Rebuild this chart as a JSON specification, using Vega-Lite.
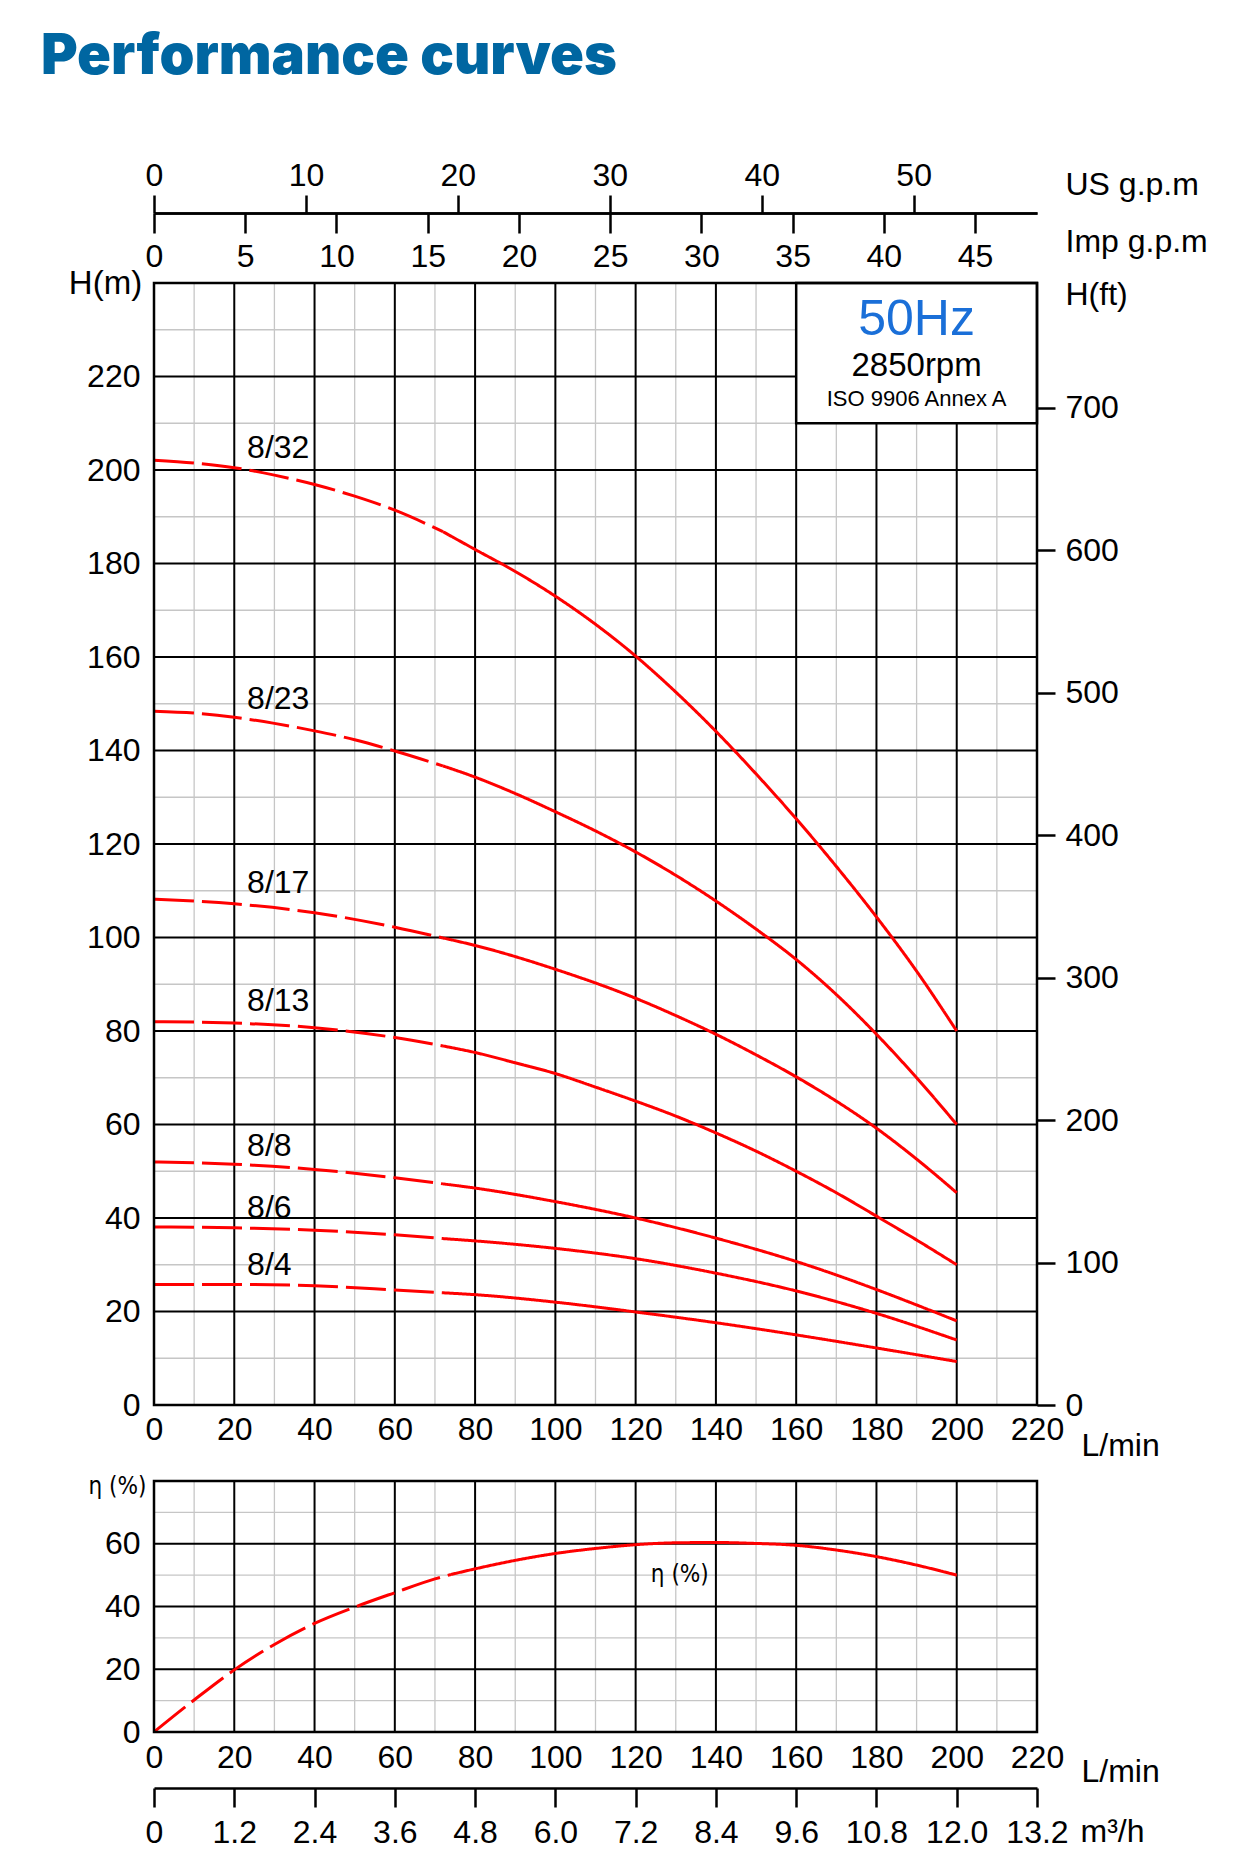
{
  "$schema": "https://vega.github.io/schema/vega-lite/v6.json",
  "background": "white",
  "padding": {"left": 41, "top": 29, "right": 10, "bottom": 10},
  "width": 883,
  "height": 1575,
  "title": {
    "text": "Performance curves",
    "anchor": "start",
    "frame": "group",
    "font": "Inter",
    "fontWeight": 900,
    "fontSize": 56,
    "color": "#0066a1",
    "offset": 73,
    "dx": -113
  },
  "config": {
    "font": "Liberation Sans",
    "view": {"stroke": null},
    "axis": {
      "labelFont": "Liberation Sans",
      "labelFontSize": 32,
      "labelColor": "black",
      "labelFlush": false,
      "labelOverlap": false,
      "labelBound": false,
      "titleFont": "Liberation Sans",
      "titleFontSize": 32,
      "titleFontWeight": "normal",
      "titleColor": "black",
      "domainColor": "black",
      "tickColor": "black",
      "grid": false
    }
  },
  "datasets": {
    "gq": [{"q": 10}, {"q": 20}, {"q": 30}, {"q": 40}, {"q": 50}, {"q": 60}, {"q": 70}, {"q": 80}, {"q": 90}, {"q": 100}, {"q": 110}, {"q": 120}, {"q": 130}, {"q": 140}, {"q": 150}, {"q": 160}, {"q": 170}, {"q": 180}, {"q": 190}, {"q": 200}, {"q": 210}],
    "gh": [{"h": 10}, {"h": 20}, {"h": 30}, {"h": 40}, {"h": 50}, {"h": 60}, {"h": 70}, {"h": 80}, {"h": 90}, {"h": 100}, {"h": 110}, {"h": 120}, {"h": 130}, {"h": 140}, {"h": 150}, {"h": 160}, {"h": 170}, {"h": 180}, {"h": 190}, {"h": 200}, {"h": 210}, {"h": 220}, {"h": 230}],
    "ge": [{"e": 10}, {"e": 20}, {"e": 30}, {"e": 40}, {"e": 50}, {"e": 60}, {"e": 70}],
    "panels": [{"panel": "main"}, {"panel": "eff"}],
    "us": [{"v": 0}, {"v": 10}, {"v": 20}, {"v": 30}, {"v": 40}, {"v": 50}],
    "imp": [{"v": 0}, {"v": 5}, {"v": 10}, {"v": 15}, {"v": 20}, {"v": 25}, {"v": 30}, {"v": 35}, {"v": 40}, {"v": 45}],
    "ft": [{"ft": 0}, {"ft": 700}],
    "m3h": [{"v": 0}, {"v": 6}, {"v": 13.2}],
    "box": [{"q": 160, "q2": 220, "h": 210, "h2": 240}],
    "boxtext": [
      {"line": "hz", "txt": "50Hz", "q": 190, "h": 228.9},
      {"line": "rpm", "txt": "2850rpm", "q": 190, "h": 220.1},
      {"line": "iso", "txt": "ISO 9906 Annex A", "q": 190, "h": 213.7}
    ],
    "labels": [
      {"model": "8/32", "q": 23.2, "h": 202.6},
      {"model": "8/23", "q": 23.2, "h": 148.9},
      {"model": "8/17", "q": 23.2, "h": 109.5},
      {"model": "8/13", "q": 23.2, "h": 84.3},
      {"model": "8/8", "q": 23.2, "h": 53.3},
      {"model": "8/6", "q": 23.2, "h": 40.0},
      {"model": "8/4", "q": 23.2, "h": 27.8}
    ],
    "curves": [
      {"model": "8/32", "seg": "dash", "q": 0, "h": 202.1},
      {"model": "8/32", "seg": "dash", "q": 10, "h": 201.5},
      {"model": "8/32", "seg": "dash", "q": 20, "h": 200.5},
      {"model": "8/32", "seg": "dash", "q": 30, "h": 198.9},
      {"model": "8/32", "seg": "dash", "q": 40, "h": 196.9},
      {"model": "8/32", "seg": "dash", "q": 50, "h": 194.4},
      {"model": "8/32", "seg": "dash", "q": 60, "h": 191.4},
      {"model": "8/32", "seg": "dash", "q": 72, "h": 186.8},
      {"model": "8/32", "seg": "solid", "q": 72, "h": 186.8},
      {"model": "8/32", "seg": "solid", "q": 80, "h": 183.0},
      {"model": "8/32", "seg": "solid", "q": 90, "h": 178.3},
      {"model": "8/32", "seg": "solid", "q": 100, "h": 173.0},
      {"model": "8/32", "seg": "solid", "q": 110, "h": 167.0},
      {"model": "8/32", "seg": "solid", "q": 120, "h": 160.2},
      {"model": "8/32", "seg": "solid", "q": 130, "h": 152.5},
      {"model": "8/32", "seg": "solid", "q": 140, "h": 144.1},
      {"model": "8/32", "seg": "solid", "q": 150, "h": 135.0},
      {"model": "8/32", "seg": "solid", "q": 160, "h": 125.4},
      {"model": "8/32", "seg": "solid", "q": 170, "h": 115.2},
      {"model": "8/32", "seg": "solid", "q": 180, "h": 104.4},
      {"model": "8/32", "seg": "solid", "q": 190, "h": 92.8},
      {"model": "8/32", "seg": "solid", "q": 200, "h": 80.0},
      {"model": "8/23", "seg": "dash", "q": 0, "h": 148.4},
      {"model": "8/23", "seg": "dash", "q": 10, "h": 148.0},
      {"model": "8/23", "seg": "dash", "q": 20, "h": 147.1},
      {"model": "8/23", "seg": "dash", "q": 30, "h": 145.8},
      {"model": "8/23", "seg": "dash", "q": 40, "h": 144.2},
      {"model": "8/23", "seg": "dash", "q": 50, "h": 142.3},
      {"model": "8/23", "seg": "dash", "q": 60, "h": 139.9},
      {"model": "8/23", "seg": "dash", "q": 72, "h": 136.7},
      {"model": "8/23", "seg": "solid", "q": 72, "h": 136.7},
      {"model": "8/23", "seg": "solid", "q": 80, "h": 134.3},
      {"model": "8/23", "seg": "solid", "q": 90, "h": 130.8},
      {"model": "8/23", "seg": "solid", "q": 100, "h": 126.9},
      {"model": "8/23", "seg": "solid", "q": 110, "h": 122.8},
      {"model": "8/23", "seg": "solid", "q": 120, "h": 118.3},
      {"model": "8/23", "seg": "solid", "q": 130, "h": 113.3},
      {"model": "8/23", "seg": "solid", "q": 140, "h": 107.8},
      {"model": "8/23", "seg": "solid", "q": 150, "h": 101.8},
      {"model": "8/23", "seg": "solid", "q": 160, "h": 95.3},
      {"model": "8/23", "seg": "solid", "q": 170, "h": 87.8},
      {"model": "8/23", "seg": "solid", "q": 180, "h": 79.3},
      {"model": "8/23", "seg": "solid", "q": 190, "h": 70.0},
      {"model": "8/23", "seg": "solid", "q": 200, "h": 60.0},
      {"model": "8/17", "seg": "dash", "q": 0, "h": 108.2},
      {"model": "8/17", "seg": "dash", "q": 20, "h": 107.2},
      {"model": "8/17", "seg": "dash", "q": 40, "h": 105.3},
      {"model": "8/17", "seg": "dash", "q": 60, "h": 102.2},
      {"model": "8/17", "seg": "dash", "q": 72, "h": 99.9},
      {"model": "8/17", "seg": "solid", "q": 72, "h": 99.9},
      {"model": "8/17", "seg": "solid", "q": 80, "h": 98.3},
      {"model": "8/17", "seg": "solid", "q": 100, "h": 93.2},
      {"model": "8/17", "seg": "solid", "q": 120, "h": 87.0},
      {"model": "8/17", "seg": "solid", "q": 130, "h": 83.3},
      {"model": "8/17", "seg": "solid", "q": 140, "h": 79.3},
      {"model": "8/17", "seg": "solid", "q": 150, "h": 74.9},
      {"model": "8/17", "seg": "solid", "q": 160, "h": 70.2},
      {"model": "8/17", "seg": "solid", "q": 170, "h": 65.0},
      {"model": "8/17", "seg": "solid", "q": 180, "h": 59.2},
      {"model": "8/17", "seg": "solid", "q": 190, "h": 52.6},
      {"model": "8/17", "seg": "solid", "q": 200, "h": 45.4},
      {"model": "8/13", "seg": "dash", "q": 0, "h": 82.0},
      {"model": "8/13", "seg": "dash", "q": 20, "h": 81.7},
      {"model": "8/13", "seg": "dash", "q": 40, "h": 80.7},
      {"model": "8/13", "seg": "dash", "q": 60, "h": 78.6},
      {"model": "8/13", "seg": "dash", "q": 72, "h": 76.8},
      {"model": "8/13", "seg": "solid", "q": 72, "h": 76.8},
      {"model": "8/13", "seg": "solid", "q": 80, "h": 75.4},
      {"model": "8/13", "seg": "solid", "q": 90, "h": 73.2},
      {"model": "8/13", "seg": "solid", "q": 100, "h": 70.9},
      {"model": "8/13", "seg": "solid", "q": 110, "h": 68.0},
      {"model": "8/13", "seg": "solid", "q": 120, "h": 65.0},
      {"model": "8/13", "seg": "solid", "q": 130, "h": 61.8},
      {"model": "8/13", "seg": "solid", "q": 140, "h": 58.2},
      {"model": "8/13", "seg": "solid", "q": 150, "h": 54.3},
      {"model": "8/13", "seg": "solid", "q": 160, "h": 50.0},
      {"model": "8/13", "seg": "solid", "q": 170, "h": 45.4},
      {"model": "8/13", "seg": "solid", "q": 180, "h": 40.4},
      {"model": "8/13", "seg": "solid", "q": 190, "h": 35.3},
      {"model": "8/13", "seg": "solid", "q": 200, "h": 30.0},
      {"model": "8/8", "seg": "dash", "q": 0, "h": 52.0},
      {"model": "8/8", "seg": "dash", "q": 20, "h": 51.5},
      {"model": "8/8", "seg": "dash", "q": 40, "h": 50.4},
      {"model": "8/8", "seg": "dash", "q": 60, "h": 48.6},
      {"model": "8/8", "seg": "dash", "q": 72, "h": 47.3},
      {"model": "8/8", "seg": "solid", "q": 72, "h": 47.3},
      {"model": "8/8", "seg": "solid", "q": 80, "h": 46.4},
      {"model": "8/8", "seg": "solid", "q": 100, "h": 43.5},
      {"model": "8/8", "seg": "solid", "q": 120, "h": 40.0},
      {"model": "8/8", "seg": "solid", "q": 140, "h": 35.7},
      {"model": "8/8", "seg": "solid", "q": 160, "h": 30.7},
      {"model": "8/8", "seg": "solid", "q": 180, "h": 24.7},
      {"model": "8/8", "seg": "solid", "q": 190, "h": 21.4},
      {"model": "8/8", "seg": "solid", "q": 200, "h": 18.0},
      {"model": "8/6", "seg": "dash", "q": 0, "h": 38.1},
      {"model": "8/6", "seg": "dash", "q": 20, "h": 37.9},
      {"model": "8/6", "seg": "dash", "q": 40, "h": 37.4},
      {"model": "8/6", "seg": "dash", "q": 60, "h": 36.4},
      {"model": "8/6", "seg": "dash", "q": 72, "h": 35.6},
      {"model": "8/6", "seg": "solid", "q": 72, "h": 35.6},
      {"model": "8/6", "seg": "solid", "q": 80, "h": 35.1},
      {"model": "8/6", "seg": "solid", "q": 100, "h": 33.5},
      {"model": "8/6", "seg": "solid", "q": 120, "h": 31.3},
      {"model": "8/6", "seg": "solid", "q": 140, "h": 28.2},
      {"model": "8/6", "seg": "solid", "q": 160, "h": 24.4},
      {"model": "8/6", "seg": "solid", "q": 180, "h": 19.6},
      {"model": "8/6", "seg": "solid", "q": 200, "h": 13.9},
      {"model": "8/4", "seg": "dash", "q": 0, "h": 25.8},
      {"model": "8/4", "seg": "dash", "q": 20, "h": 25.8},
      {"model": "8/4", "seg": "dash", "q": 40, "h": 25.5},
      {"model": "8/4", "seg": "dash", "q": 60, "h": 24.6},
      {"model": "8/4", "seg": "dash", "q": 72, "h": 24.0},
      {"model": "8/4", "seg": "solid", "q": 72, "h": 24.0},
      {"model": "8/4", "seg": "solid", "q": 80, "h": 23.6},
      {"model": "8/4", "seg": "solid", "q": 100, "h": 22.0},
      {"model": "8/4", "seg": "solid", "q": 120, "h": 19.9},
      {"model": "8/4", "seg": "solid", "q": 140, "h": 17.6},
      {"model": "8/4", "seg": "solid", "q": 160, "h": 15.0},
      {"model": "8/4", "seg": "solid", "q": 180, "h": 12.2},
      {"model": "8/4", "seg": "solid", "q": 200, "h": 9.3}
    ],
    "eff": [
      {"seg": "dash", "q": 0, "e": 0},
      {"seg": "dash", "q": 10, "e": 10.2},
      {"seg": "dash", "q": 20, "e": 19.8},
      {"seg": "dash", "q": 30, "e": 27.9},
      {"seg": "dash", "q": 40, "e": 34.6},
      {"seg": "dash", "q": 50, "e": 39.8},
      {"seg": "dash", "q": 60, "e": 44.4},
      {"seg": "dash", "q": 70, "e": 48.8},
      {"seg": "dash", "q": 74, "e": 50.2},
      {"seg": "solid", "q": 74, "e": 50.2},
      {"seg": "solid", "q": 80, "e": 52.0},
      {"seg": "solid", "q": 90, "e": 54.7},
      {"seg": "solid", "q": 100, "e": 56.9},
      {"seg": "solid", "q": 110, "e": 58.5},
      {"seg": "solid", "q": 120, "e": 59.7},
      {"seg": "solid", "q": 130, "e": 60.3},
      {"seg": "solid", "q": 140, "e": 60.4},
      {"seg": "solid", "q": 150, "e": 60.1},
      {"seg": "solid", "q": 160, "e": 59.5},
      {"seg": "solid", "q": 170, "e": 58.0},
      {"seg": "solid", "q": 180, "e": 55.9},
      {"seg": "solid", "q": 190, "e": 53.2},
      {"seg": "solid", "q": 200, "e": 50.0}
    ],
    "efflabel": [{"txt": "η (%)", "q": 131, "e": 50}]
  },
  "layer": [
    {
      "data": {"name": "gq"},
      "transform": [{"filter": "datum.q % 20 !== 0"}],
      "mark": {"type": "rule", "color": "#c6c6c6", "strokeWidth": 1.3},
      "encoding": {
        "x": {"field": "q", "type": "quantitative", "scale": {"domain": [0, 220], "nice": false, "zero": false}, "axis": null},
        "y": {"datum": 0, "type": "quantitative", "scale": {"domain": [0, 240], "range": [1192, 70], "nice": false, "zero": false}, "axis": null},
        "y2": {"datum": 240}
      }
    },
    {
      "data": {"name": "gh"},
      "transform": [{"filter": "datum.h % 20 !== 0"}],
      "mark": {"type": "rule", "color": "#c6c6c6", "strokeWidth": 1.3},
      "encoding": {
        "y": {"field": "h", "type": "quantitative", "scale": {"domain": [0, 240], "range": [1192, 70], "nice": false, "zero": false}, "axis": null},
        "x": {"datum": 0, "type": "quantitative", "scale": {"domain": [0, 220], "nice": false, "zero": false}, "axis": null},
        "x2": {"datum": 220}
      }
    },
    {
      "data": {"name": "gq"},
      "transform": [{"filter": "datum.q % 20 !== 0"}],
      "mark": {"type": "rule", "color": "#c6c6c6", "strokeWidth": 1.3},
      "encoding": {
        "x": {"field": "q", "type": "quantitative", "scale": {"domain": [0, 220], "nice": false, "zero": false}, "axis": null},
        "y": {"datum": 0, "type": "quantitative", "scale": {"domain": [0, 80], "range": [1519, 1268], "nice": false, "zero": false}, "axis": null},
        "y2": {"datum": 80}
      }
    },
    {
      "data": {"name": "ge"},
      "transform": [{"filter": "datum.e % 20 !== 0"}],
      "mark": {"type": "rule", "color": "#c6c6c6", "strokeWidth": 1.3},
      "encoding": {
        "y": {"field": "e", "type": "quantitative", "scale": {"domain": [0, 80], "range": [1519, 1268], "nice": false, "zero": false}, "axis": null},
        "x": {"datum": 0, "type": "quantitative", "scale": {"domain": [0, 220], "nice": false, "zero": false}, "axis": null},
        "x2": {"datum": 220}
      }
    },
    {
      "data": {"name": "gq"},
      "transform": [{"filter": "datum.q % 20 === 0"}],
      "mark": {"type": "rule", "color": "black", "strokeWidth": 2},
      "encoding": {
        "x": {"field": "q", "type": "quantitative", "scale": {"domain": [0, 220], "nice": false, "zero": false}, "axis": null},
        "y": {"datum": 0, "type": "quantitative", "scale": {"domain": [0, 240], "range": [1192, 70], "nice": false, "zero": false}, "axis": null},
        "y2": {"datum": 240}
      }
    },
    {
      "data": {"name": "gh"},
      "transform": [{"filter": "datum.h % 20 === 0"}],
      "mark": {"type": "rule", "color": "black", "strokeWidth": 2},
      "encoding": {
        "y": {"field": "h", "type": "quantitative", "scale": {"domain": [0, 240], "range": [1192, 70], "nice": false, "zero": false}, "axis": null},
        "x": {"datum": 0, "type": "quantitative", "scale": {"domain": [0, 220], "nice": false, "zero": false}, "axis": null},
        "x2": {"datum": 220}
      }
    },
    {
      "data": {"name": "gq"},
      "transform": [{"filter": "datum.q % 20 === 0"}],
      "mark": {"type": "rule", "color": "black", "strokeWidth": 2},
      "encoding": {
        "x": {"field": "q", "type": "quantitative", "scale": {"domain": [0, 220], "nice": false, "zero": false}, "axis": null},
        "y": {"datum": 0, "type": "quantitative", "scale": {"domain": [0, 80], "range": [1519, 1268], "nice": false, "zero": false}, "axis": null},
        "y2": {"datum": 80}
      }
    },
    {
      "data": {"name": "ge"},
      "transform": [{"filter": "datum.e % 20 === 0"}],
      "mark": {"type": "rule", "color": "black", "strokeWidth": 2},
      "encoding": {
        "y": {"field": "e", "type": "quantitative", "scale": {"domain": [0, 80], "range": [1519, 1268], "nice": false, "zero": false}, "axis": null},
        "x": {"datum": 0, "type": "quantitative", "scale": {"domain": [0, 220], "nice": false, "zero": false}, "axis": null},
        "x2": {"datum": 220}
      }
    },
    {
      "data": {"name": "box"},
      "mark": {"type": "rect", "fill": "white", "stroke": "black", "strokeWidth": 2.5},
      "encoding": {
        "x": {"field": "q", "type": "quantitative", "scale": {"domain": [0, 220], "nice": false, "zero": false}, "axis": null},
        "x2": {"field": "q2"},
        "y": {"field": "h", "type": "quantitative", "scale": {"domain": [0, 240], "range": [1192, 70], "nice": false, "zero": false}, "axis": null},
        "y2": {"field": "h2"}
      }
    },
    {
      "data": {"name": "boxtext"},
      "transform": [{"filter": "datum.line === 'hz'"}],
      "mark": {"type": "text", "font": "Liberation Sans", "fontSize": 50, "color": "#1a6fd8", "align": "center", "baseline": "alphabetic"},
      "encoding": {
        "x": {"field": "q", "type": "quantitative", "scale": {"domain": [0, 220], "nice": false, "zero": false}, "axis": null},
        "y": {"field": "h", "type": "quantitative", "scale": {"domain": [0, 240], "range": [1192, 70], "nice": false, "zero": false}, "axis": null},
        "text": {"field": "txt", "type": "nominal"}
      }
    },
    {
      "data": {"name": "boxtext"},
      "transform": [{"filter": "datum.line === 'rpm'"}],
      "mark": {"type": "text", "font": "Liberation Sans", "fontSize": 33, "color": "black", "align": "center", "baseline": "alphabetic"},
      "encoding": {
        "x": {"field": "q", "type": "quantitative", "scale": {"domain": [0, 220], "nice": false, "zero": false}, "axis": null},
        "y": {"field": "h", "type": "quantitative", "scale": {"domain": [0, 240], "range": [1192, 70], "nice": false, "zero": false}, "axis": null},
        "text": {"field": "txt", "type": "nominal"}
      }
    },
    {
      "data": {"name": "boxtext"},
      "transform": [{"filter": "datum.line === 'iso'"}],
      "mark": {"type": "text", "font": "Liberation Sans", "fontSize": 22, "color": "black", "align": "center", "baseline": "alphabetic"},
      "encoding": {
        "x": {"field": "q", "type": "quantitative", "scale": {"domain": [0, 220], "nice": false, "zero": false}, "axis": null},
        "y": {"field": "h", "type": "quantitative", "scale": {"domain": [0, 240], "range": [1192, 70], "nice": false, "zero": false}, "axis": null},
        "text": {"field": "txt", "type": "nominal"}
      }
    },
    {
      "data": {"name": "curves"},
      "mark": {"type": "line", "color": "#ff0000", "strokeWidth": 3, "interpolate": "monotone"},
      "encoding": {
        "x": {
          "field": "q",
          "type": "quantitative",
          "scale": {"domain": [0, 220], "nice": false, "zero": false},
          "axis": {
            "orient": "bottom",
            "offset": -383,
            "values": [0, 20, 40, 60, 80, 100, 120, 140, 160, 180, 200, 220],
            "ticks": false,
            "tickSize": 0,
            "domain": false,
            "labelPadding": 9,
            "title": "L/min",
            "titleX": 927,
            "titleY": 50,
            "titleAlign": "left",
            "titleBaseline": "alphabetic"
          }
        },
        "y": {
          "field": "h",
          "type": "quantitative",
          "scale": {"domain": [0, 240], "range": [1192, 70], "nice": false, "zero": false},
          "axis": {
            "orient": "left",
            "values": [0, 20, 40, 60, 80, 100, 120, 140, 160, 180, 200, 220],
            "ticks": false,
            "tickSize": 0,
            "domain": false,
            "labelPadding": 14,
            "title": "H(m)",
            "titleAngle": 0,
            "titleX": -49,
            "titleY": 80,
            "titleAlign": "center",
            "titleBaseline": "alphabetic",
            "titleFontSize": 33
          }
        },
        "detail": {"field": "model", "type": "nominal"},
        "strokeDash": {
          "field": "seg",
          "type": "nominal",
          "scale": {"domain": ["dash", "solid"], "range": [[40, 8], [1, 0]]},
          "legend": null
        }
      }
    },
    {
      "data": {"name": "labels"},
      "mark": {"type": "text", "font": "Liberation Sans", "fontSize": 32, "color": "black", "align": "left", "baseline": "alphabetic"},
      "encoding": {
        "x": {"field": "q", "type": "quantitative", "scale": {"domain": [0, 220], "nice": false, "zero": false}, "axis": null},
        "y": {"field": "h", "type": "quantitative", "scale": {"domain": [0, 240], "range": [1192, 70], "nice": false, "zero": false}, "axis": null},
        "text": {"field": "model", "type": "nominal"}
      }
    },
    {
      "data": {"name": "eff"},
      "mark": {"type": "line", "color": "#ff0000", "strokeWidth": 3, "interpolate": "monotone"},
      "encoding": {
        "x": {
          "field": "q",
          "type": "quantitative",
          "scale": {"domain": [0, 220], "nice": false, "zero": false},
          "axis": {
            "orient": "bottom",
            "offset": -56,
            "values": [0, 20, 40, 60, 80, 100, 120, 140, 160, 180, 200, 220],
            "ticks": false,
            "tickSize": 0,
            "domain": false,
            "labelPadding": 10,
            "title": "L/min",
            "titleX": 927,
            "titleY": 49,
            "titleAlign": "left",
            "titleBaseline": "alphabetic"
          }
        },
        "y": {
          "field": "e",
          "type": "quantitative",
          "scale": {"domain": [0, 80], "range": [1519, 1268], "nice": false, "zero": false},
          "axis": {
            "orient": "left",
            "values": [0, 20, 40, 60],
            "ticks": false,
            "tickSize": 0,
            "domain": false,
            "labelPadding": 14,
            "title": "η (%)",
            "titleFont": "Liberation Sans Narrow, DejaVu Sans Condensed, Liberation Sans",
            "titleFontSize": 24,
            "titleAngle": 0,
            "titleX": -37,
            "titleY": 1280,
            "titleAlign": "center",
            "titleBaseline": "alphabetic"
          }
        },
        "strokeDash": {
          "field": "seg",
          "type": "nominal",
          "scale": {"domain": ["dash", "solid"], "range": [[40, 8], [1, 0]]},
          "legend": null
        }
      }
    },
    {
      "data": {"name": "efflabel"},
      "mark": {"type": "text", "font": "Liberation Sans Narrow, DejaVu Sans Condensed, Liberation Sans", "fontSize": 24, "color": "black", "align": "center", "baseline": "middle"},
      "encoding": {
        "x": {"field": "q", "type": "quantitative", "scale": {"domain": [0, 220], "nice": false, "zero": false}, "axis": null},
        "y": {"field": "e", "type": "quantitative", "scale": {"domain": [0, 80], "range": [1519, 1268], "nice": false, "zero": false}, "axis": null},
        "text": {"field": "txt", "type": "nominal"}
      }
    },
    {
      "data": {"name": "panels"},
      "transform": [{"filter": "datum.panel === 'main'"}],
      "mark": {"type": "rect", "fill": null, "fillOpacity": 0, "stroke": "black", "strokeWidth": 2.5},
      "encoding": {
        "x": {"datum": 0, "type": "quantitative", "scale": {"domain": [0, 220], "nice": false, "zero": false}, "axis": null},
        "x2": {"datum": 220},
        "y": {"datum": 0, "type": "quantitative", "scale": {"domain": [0, 240], "range": [1192, 70], "nice": false, "zero": false}, "axis": null},
        "y2": {"datum": 240}
      }
    },
    {
      "data": {"name": "panels"},
      "transform": [{"filter": "datum.panel === 'eff'"}],
      "mark": {"type": "rect", "fill": null, "fillOpacity": 0, "stroke": "black", "strokeWidth": 2.5},
      "encoding": {
        "x": {"datum": 0, "type": "quantitative", "scale": {"domain": [0, 220], "nice": false, "zero": false}, "axis": null},
        "x2": {"datum": 220},
        "y": {"datum": 0, "type": "quantitative", "scale": {"domain": [0, 80], "range": [1519, 1268], "nice": false, "zero": false}, "axis": null},
        "y2": {"datum": 80}
      }
    },
    {
      "data": {"name": "ft"},
      "mark": {"type": "point", "opacity": 0},
      "encoding": {
        "y": {
          "field": "ft",
          "type": "quantitative",
          "scale": {"domain": [0, 787.4], "range": [1192, 70], "nice": false, "zero": false},
          "axis": {
            "orient": "right",
            "values": [0, 100, 200, 300, 400, 500, 600, 700],
            "domain": false,
            "tickSize": 18,
            "tickWidth": 2.5,
            "labelPadding": 10,
            "title": "H(ft)",
            "titleAngle": 0,
            "titleX": 28,
            "titleY": 91,
            "titleAlign": "left",
            "titleBaseline": "alphabetic"
          }
        }
      }
    },
    {
      "data": {"name": "us"},
      "mark": {"type": "point", "opacity": 0},
      "encoding": {
        "x": {
          "field": "v",
          "type": "quantitative",
          "scale": {"domain": [0, 58.118], "nice": false, "zero": false},
          "axis": {
            "orient": "top",
            "values": [0, 10, 20, 30, 40, 50],
            "tickSize": 18,
            "tickWidth": 2.5,
            "domainWidth": 2.5,
            "labelPadding": 3,
            "title": "US g.p.m",
            "titleX": 911,
            "titleY": -19,
            "titleAlign": "left",
            "titleBaseline": "alphabetic"
          }
        }
      }
    },
    {
      "data": {"name": "imp"},
      "mark": {"type": "point", "opacity": 0},
      "encoding": {
        "x": {
          "field": "v",
          "type": "quantitative",
          "scale": {"domain": [0, 48.393], "nice": false, "zero": false},
          "axis": {
            "orient": "bottom",
            "offset": -1575,
            "values": [0, 5, 10, 15, 20, 25, 30, 35, 40, 45],
            "tickSize": 20,
            "tickWidth": 2.5,
            "domainWidth": 2.5,
            "labelPadding": 8,
            "title": "Imp g.p.m",
            "titleX": 911,
            "titleY": 38,
            "titleAlign": "left",
            "titleBaseline": "alphabetic"
          }
        }
      }
    },
    {
      "data": {"name": "m3h"},
      "mark": {"type": "point", "opacity": 0},
      "encoding": {
        "x": {
          "field": "v",
          "type": "quantitative",
          "scale": {"domain": [0, 13.2], "nice": false, "zero": false},
          "axis": {
            "orient": "bottom",
            "values": [0, 1.2, 2.4, 3.6, 4.8, 6, 7.2, 8.4, 9.6, 10.8, 12, 13.2],
            "labelExpr": "datum.value === 0 ? '0' : format(datum.value, '.1f')",
            "tickSize": 19,
            "tickWidth": 2.5,
            "domainWidth": 2.5,
            "labelPadding": 10,
            "title": "m³/h",
            "titleX": 926,
            "titleY": 53,
            "titleAlign": "left",
            "titleBaseline": "alphabetic"
          }
        }
      }
    }
  ],
  "resolve": {
    "scale": {"x": "independent", "y": "independent"},
    "axis": {"x": "independent", "y": "independent"}
  }
}
